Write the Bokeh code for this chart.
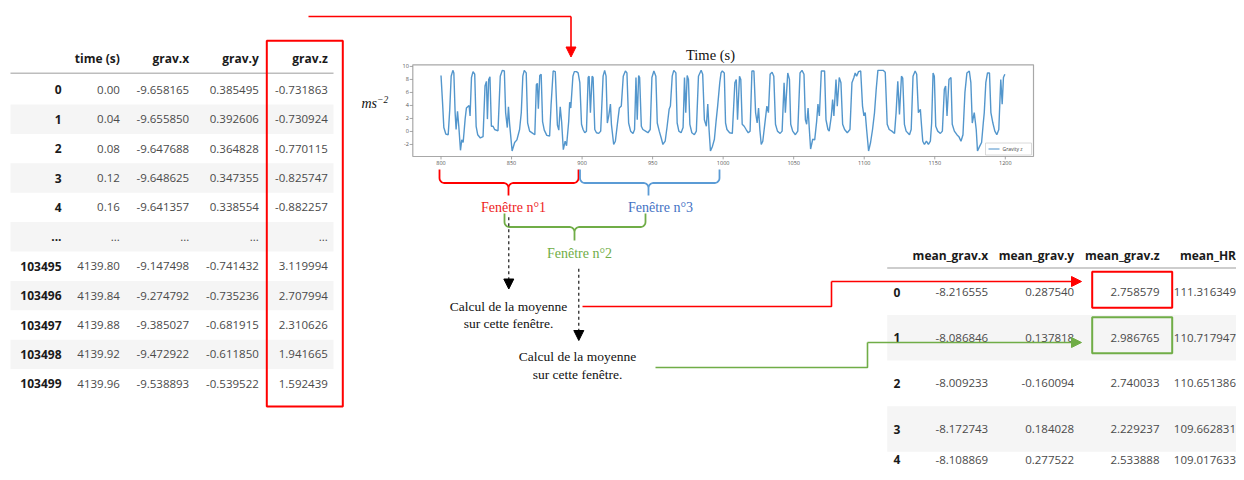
import numpy as np
from bokeh.plotting import figure
from bokeh.models import Range1d, Arrow, NormalHead
from bokeh.core.properties import value
from bokeh.embed import file_html
from bokeh.resources import INLINE

# ------------------------------------------------------------------ data
left_columns = ["time (s)", "grav.x", "grav.y", "grav.z"]
left_index = ["0", "1", "2", "3", "4", "...", "103495", "103496", "103497", "103498", "103499"]
left_time = [0.00, 0.04, 0.08, 0.12, 0.16, None, 4139.80, 4139.84, 4139.88, 4139.92, 4139.96]
left_grav_x = [-9.658165, -9.655850, -9.647688, -9.648625, -9.641357, None,
               -9.147498, -9.274792, -9.385027, -9.472922, -9.538893]
left_grav_y = [0.385495, 0.392606, 0.364828, 0.347355, 0.338554, None,
               -0.741432, -0.735236, -0.681915, -0.611850, -0.539522]
left_grav_z = [-0.731863, -0.730924, -0.770115, -0.825747, -0.882257, None,
               3.119994, 2.707994, 2.310626, 1.941665, 1.592439]

right_columns = ["mean_grav.x", "mean_grav.y", "mean_grav.z", "mean_HR"]
right_index = ["0", "1", "2", "3", "4"]
mean_grav_x = [-8.216555, -8.086846, -8.009233, -8.172743, -8.108869]
mean_grav_y = [0.287540, 0.137818, -0.160094, 0.184028, 0.277522]
mean_grav_z = [2.758579, 2.986765, 2.740033, 2.229237, 2.533888]
mean_hr = [111.316349, 110.717947, 110.651386, 109.662831, 109.017633]

time_s = [
    800.0, 801.1, 802.0, 803.4, 805.1, 806.2, 807.2, 808.4, 809.1, 810.0, 810.7, 811.7, 812.6,
    813.8, 814.7, 815.7, 817.1, 818.0, 819.9, 820.6, 821.6, 822.7, 823.9, 824.9, 826.0, 827.9,
    829.8, 831.2, 832.2, 832.9, 833.8, 834.7, 835.7, 836.9, 838.0, 840.4, 842.0, 843.5, 844.9,
    845.8, 847.0, 847.8, 848.6, 850.4, 852.2, 853.8, 855.7, 856.9, 858.0, 859.0, 860.4, 861.4,
    862.8, 865.1, 866.5, 867.6, 868.3, 869.0, 870.0, 871.0, 872.0, 873.2, 875.0, 877.0, 878.0,
    879.5, 881.0, 882.5, 883.5, 884.5, 885.5, 886.7, 888.0, 889.0, 890.5, 891.2, 892.0, 893.5,
    894.5, 896.0,
    897.2, 898.4, 899.6, 900.7, 901.9, 903.1, 904.3, 905.0, 905.9, 907.1, 907.8, 909.0, 910.2,
    911.8, 913.2, 914.9, 916.0, 917.0, 917.9, 918.9, 920.1, 920.8, 922.4, 923.6, 925.0, 926.4,
    927.8, 929.2, 930.7, 931.8, 933.0, 934.4, 936.1, 937.2, 938.2, 939.1, 940.1, 940.8, 942.0,
    943.1, 945.0, 946.7, 948.3, 949.5, 950.9, 952.3, 953.3, 954.7, 956.1, 957.3, 958.9, 960.3,
    961.7, 962.6, 963.9, 965.0, 966.5, 967.4, 968.6, 970.2, 971.6, 972.6, 973.5, 974.5, 975.4,
    976.4, 977.8, 979.6, 981.0, 982.5, 984.4, 985.5, 986.7, 988.1, 989.1, 990.0, 991.0, 992.4,
    993.8, 995.0, 996.1, 997.6, 998.5,
    999.4, 1000.8, 1001.7, 1002.7, 1004.6, 1006.5, 1008.3, 1009.3, 1010.2, 1011.6, 1012.5,
    1013.5, 1014.9, 1016.3, 1017.8, 1019.1, 1020.4, 1021.8, 1023.0, 1024.1, 1025.1, 1026.0,
    1027.0, 1028.1, 1029.5, 1031.0, 1032.1, 1033.3, 1034.7, 1035.9, 1037.1, 1038.5, 1040.4,
    1041.8, 1043.2, 1044.1, 1045.8, 1047.0, 1047.9, 1049.3, 1051.2, 1052.9, 1054.5, 1055.9,
    1057.3, 1058.3, 1059.2, 1060.2, 1061.1, 1062.0, 1063.5, 1064.9, 1066.3, 1067.2, 1068.2,
    1069.6, 1071.9, 1072.9, 1074.3, 1075.2, 1076.7, 1077.6, 1078.5, 1080.0, 1080.9, 1082.3,
    1083.5, 1084.7, 1086.1, 1088.0, 1089.9, 1091.3, 1092.7, 1093.6, 1094.6, 1096.0,
    1097.5, 1098.8, 1099.8, 1100.7, 1101.7, 1103.1, 1104.5, 1105.9, 1107.3, 1108.5, 1109.7,
    1111.6, 1113.4, 1114.9, 1116.3, 1117.7, 1119.6, 1121.5, 1122.6, 1123.8, 1125.0, 1126.4,
    1127.3, 1128.5, 1129.7, 1132.1, 1133.3, 1134.6, 1136.1, 1137.2, 1138.4, 1139.8, 1140.6,
    1141.5, 1142.7, 1144.1, 1145.5, 1146.9, 1147.8, 1148.8, 1149.7, 1150.7, 1152.1, 1154.0,
    1155.4, 1156.8, 1157.7, 1158.7, 1160.1, 1161.5, 1162.4, 1163.9, 1165.7, 1167.1, 1168.6,
    1170.0, 1171.4, 1172.8, 1174.5, 1175.6, 1176.6, 1178.0, 1179.4, 1180.3, 1181.8, 1183.2,
    1184.4, 1185.1, 1186.2, 1187.4, 1188.8, 1189.8, 1191.2, 1192.6, 1194.0, 1195.4, 1196.8,
    1197.8, 1198.7, 1199.7,
]
gravity_z = [
    8.6, 4.4, 0.6, -0.4, -0.5, 3.4, 8.5, 9.4, 9.0, 2.9, 0.3, 3.1, 0.8,
    -2.9, -1.3, -1.7, 1.9, 3.6, 4.0, 2.4, 8.3, 9.2, 8.8, 0.8, -0.5, -1.0,
    -0.8, 7.0, 7.7, 1.9, 8.0, 8.4, 0.8, 0.8, 0.3, 0.1, 8.5, 9.4, 9.3,
    2.9, 0.6, 3.8, 1.2, -3.0, -1.7, -1.3, 0.3, 2.9, 8.5, 9.4, 9.0, 1.3,
    0.05, -0.3, -0.5, 7.2, 7.4, 3.5, 8.6, 8.8, 1.5, 0.2, -0.6, -0.7, 4.0,
    9.3, 9.2, 1.0, 0.2, 3.8, 1.5, -2.8, -1.5, -2.2, 1.5, 4.5, 3.6, 8.5,
    9.2, 9.2,
    9.0, 7.5, 1.1, 0.3, -0.2, 0.05, 8.3, 8.5, 2.9, 8.5, 8.3, 0.3, -0.2,
    -0.3, 0.05, 8.5, 9.4, 8.5, 1.3, 2.4, 4.2, 1.1, -2.0, -1.5, 1.1, 3.6,
    3.9, 8.5, 9.3, 9.0, 1.3, 0.05, -0.3, 0.3, 8.3, 1.8, 8.6, 8.3, 0.8,
    0.3, 0.05, -0.2, 0.3, 8.3, 9.3, 8.5, 1.3, 0.05, -1.0, -2.0, -1.5, 0.8,
    3.4, 3.9, 8.5, 9.4, 9.0, 1.3, 0.05, -0.2, 0.6, 8.3, 2.9, 8.6, 8.0,
    1.1, -0.2, -0.5, 0.05, 8.5, 9.4, 8.8, 1.8, 0.8, 4.2, 0.3, -3.0, -2.3,
    -1.2, 1.6, 3.9, 7.5, 9.0,
    9.3, 9.0, 1.3, 0.3, -0.2, -0.3, 7.5, 8.0, 1.8, 8.5, 8.0,
    1.1, 0.8, 0.3, -0.2, 0.05, 9.3, 9.3, 2.9, 1.3, 3.6, 0.3,
    -2.0, -1.5, 1.1, 3.9, 2.9, 8.8, 9.1, 8.5, 1.1, 0.05, -0.3,
    0.05, 7.5, 2.9, 9.0, 8.0, 1.1, 0.05, -0.5, 0.05, 9.0, 9.4,
    8.8, 1.8, 1.1, 3.6, 0.3, -2.7, -1.2, -1.3, 1.6, 4.2, 2.4,
    9.3, 9.3, 1.8, 0.3, 0.05, 2.4, 4.9, 2.4, 8.0, 3.9, 8.3,
    7.5, 1.1, 0.3, -0.2, 0.3, 7.5, 8.3, 9.0, 8.5, 9.2,
    9.3, 3.9, 2.4, 2.9, 0.3, -3.0, -1.7, 0.3, 2.9, 6.5, 9.4,
    9.4, 9.4, 9.1, 1.1, 0.3, 0.05, -0.3, 2.9, 7.7, 2.6, 8.5,
    8.2, 1.1, 0.05, -0.5, 0.3, 8.5, 9.3, 8.8, 2.9, 3.4, 1.0,
    -1.5, -2.0, -1.5, -2.0, -1.5, 1.3, 9.0, 8.5, 0.8, 0.05, -0.3,
    0.05, 6.5, 7.0, 2.4, 8.0, 8.3, 1.1, 0.05, -0.5, -0.8, -1.5,
    -0.5, 6.0, 9.0, 9.3, 7.5, 1.3, 2.9, 0.3, -3.0, -2.3, -1.7,
    1.3, 2.9, 7.5, 9.0, 9.0, 2.9, 1.3, 0.05, -0.5, 0.3, 8.0,
    4.2, 8.3, 8.8,
]
x_ticks = [800, 850, 900, 950, 1000, 1050, 1100, 1150, 1200]
y_ticks = [-2, 0, 2, 4, 6, 8, 10]
x_limits = (780, 1220)
y_limits = (-3.85, 10.25)
chart_title = "Time (s)"
legend_label = "Gravity z"
window_labels = ["Fenêtre n°1", "Fenêtre n°2", "Fenêtre n°3"]
mean_caption = ["Calcul de la moyenne", "sur cette fenêtre."]

# ------------------------------------------------------------------ figure (screenshot pixel coordinates)
W, H = 1236, 472
p = figure(width=W, height=H, x_range=Range1d(0, W), y_range=Range1d(H, 0),
           output_backend="svg", toolbar_location=None,
           x_axis_location=None, y_axis_location=None, min_border=0)
p.grid.visible = False
p.outline_line_color = None
p.background_fill_color = "white"
p.border_fill_color = "white"

SANS = value("Open Sans")
SERIF = value("Liberation Serif")
RED = "#ff0000"
RED_TXT = "#ee1c24"
BLUE = "#5b9bd5"
BLUE_TXT = "#4472c4"
GREEN = "#70ad47"
VAL_COLOR = "#4a4a4a"
HEAD_COLOR = "#1a1a1a"
LINE_BLUE = "#4a90c9"


def put_text(g, xs, ys, texts, size, color, align="right", style="normal", font=SANS,
             baseline="middle", **kw):
    g.text(x=xs, y=ys, text=texts, text_font=font, text_font_size=size, text_color=color,
           text_align=align, text_baseline=baseline, text_font_style=style, **kw)


def fmt(vals, digits):
    return ["..." if v is None else f"{v:.{digits}f}" for v in vals]


# ------------------------------------------------------------------ left table
L_LEFT, L_RIGHT = 10, 333
L_HEAD_Y = 58.3
L_ROW0, L_ROW_H = 89.3, 29.4
L_COL_R = [61, 119.3, 188.7, 258.3, 327.3]
n_left = len(left_index)
l_rows = [L_ROW0 + i * L_ROW_H for i in range(n_left)]
l_odd = [l_rows[i] for i in range(n_left) if i % 2 == 1]
p.quad(left=L_LEFT, right=L_RIGHT, top=[y - L_ROW_H / 2 for y in l_odd],
       bottom=[y + L_ROW_H / 2 for y in l_odd], fill_color="#f5f5f5", line_color=None)
p.segment(x0=L_LEFT, y0=L_HEAD_Y + 14.5, x1=L_RIGHT, y1=L_HEAD_Y + 14.5,
          line_color="#bdbdbd", line_width=1.5)
put_text(p, L_COL_R[1:], [L_HEAD_Y] * 4, left_columns, "12px", HEAD_COLOR, style="bold")
put_text(p, [L_COL_R[0]] * n_left, l_rows, left_index, "12px", HEAD_COLOR, style="bold")
for col_x, col_vals, d in zip(L_COL_R[1:], [left_time, left_grav_x, left_grav_y, left_grav_z],
                              [2, 6, 6, 6]):
    put_text(p, [col_x] * n_left, l_rows, fmt(col_vals, d), "11.5px", VAL_COLOR)
# red box around grav.z column
p.quad(left=L_COL_R[4] - 61, right=L_COL_R[4] + 15, top=L_HEAD_Y - 18,
       bottom=l_rows[-1] + 22.7, fill_color=None, line_color=RED, line_width=2)

# ------------------------------------------------------------------ right table
R_LEFT, R_RIGHT = 886.7, W
R_HEAD_Y = 255
R_ROW0, R_ROW_H = 291.7, 45.6
R_COL_R = [987.7, 1073.7, 1159, 1235.5]
n_right = len(right_index)
r_rows = [min(R_ROW0 + i * R_ROW_H, 459) for i in range(n_right)]
r_odd = [R_ROW0 + i * R_ROW_H for i in range(n_right) if i % 2 == 1]
p.quad(left=R_LEFT, right=R_RIGHT, top=[y - R_ROW_H / 2 for y in r_odd],
       bottom=[y + R_ROW_H / 2 for y in r_odd], fill_color="#f5f5f5", line_color=None)
p.segment(x0=R_LEFT, y0=R_HEAD_Y + 12.5, x1=R_RIGHT, y1=R_HEAD_Y + 12.5,
          line_color="#bdbdbd", line_width=1.5)
put_text(p, R_COL_R, [R_HEAD_Y] * 4, right_columns, "12px", HEAD_COLOR, style="bold")
put_text(p, [893] * n_right, r_rows, right_index, "12px", HEAD_COLOR, style="bold", align="left")
for col_x, col_vals in zip(R_COL_R, [mean_grav_x, mean_grav_y, mean_grav_z, mean_hr]):
    put_text(p, [col_x] * n_right, r_rows, fmt(col_vals, 6), "11.5px", VAL_COLOR)
for i, c in [(0, RED), (1, GREEN)]:
    yc = R_ROW0 + i * R_ROW_H
    p.quad(left=R_COL_R[2] - 67.3, right=R_COL_R[2] + 12.7, top=yc - 20.5, bottom=yc + 15.5,
           fill_color=None, line_color=c, line_width=2)

# ------------------------------------------------------------------ inner time-series chart
FX0, FX1, FY0, FY1 = 412.3, 1033, 156, 64.3
sub = p.subplot(x_source=Range1d(*x_limits), y_source=Range1d(*y_limits),
                x_target=Range1d(FX0, FX1), y_target=Range1d(FY0, FY1))
sub.line(time_s, gravity_z, line_color=LINE_BLUE, line_width=1.4, line_alpha=0.95)
sub.quad(left=x_limits[0], right=x_limits[1], bottom=y_limits[0], top=y_limits[1],
         fill_color=None, line_color="#a8a8a8", line_width=1.2)
sub.segment(x0=x_ticks, y0=y_limits[0], x1=x_ticks, y1=y_limits[0] - 0.45,
            line_color="#909090", line_width=0.8)
sub.segment(x0=x_limits[0], y0=y_ticks, x1=x_limits[0] - 2.2, y1=y_ticks,
            line_color="#909090", line_width=0.8)
put_text(sub, x_ticks, [y_limits[0]] * len(x_ticks), [str(t) for t in x_ticks], "5.5px",
         "#555555", align="center", baseline="top", y_offset=4)
put_text(sub, [x_limits[0]] * len(y_ticks), y_ticks, [str(t) for t in y_ticks], "5.5px",
         "#555555", align="right", x_offset=-4)
# legend
p.quad(left=985, right=1031, top=142.5, bottom=154.5, fill_color="white",
       line_color="#d0d0d0", line_width=0.8)
p.segment(x0=988, y0=148.5, x1=999, y1=148.5, line_color=LINE_BLUE, line_width=1.2)
put_text(p, [1002], [148.7], [legend_label], "5px", "#444444", align="left")
# title and unit
put_text(p, [710], [54], [chart_title], "14.5px", "#111111", align="center", font=SERIF)
put_text(p, [361], [103], ["ms"], "14px", "#111111", align="left", font=SERIF, style="italic")
put_text(p, [376.5], [98.5], ["−2"], "9.5px", "#111111", align="left", font=SERIF, style="italic")

# ------------------------------------------------------------------ braces


def brace(x0, x1, xc, y_end, y_bar, y_tip, color, r=5.0):
    def arc(cx, cy, a0, a1):
        a = np.radians(np.linspace(a0, a1, 8))
        return list(cx + r * np.cos(a)), list(cy + r * np.sin(a))
    xs, ys = [x0], [y_end]
    for cx, cy, a0, a1 in [(x0 + r, y_bar - r, 180, 90), (xc - r, y_bar + r, -90, 0)]:
        ax, ay = arc(cx, cy, a0, a1)
        xs += ax
        ys += ay
    xs.append(xc)
    ys.append(y_tip)
    xs.append(xc)
    ys.append(y_bar + r)
    for cx, cy, a0, a1 in [(xc + r, y_bar + r, 180, 270), (x1 - r, y_bar - r, 90, 0)]:
        ax, ay = arc(cx, cy, a0, a1)
        xs += ax
        ys += ay
    xs.append(x1)
    ys.append(y_end)
    p.line(xs, ys, line_color=color, line_width=1.8)


brace(439, 578, 508, 169, 182.5, 195, RED)
brace(579.5, 719, 648, 169, 182.5, 195, BLUE)
brace(504, 645, 574, 213, 226.5, 240, GREEN)
put_text(p, [513], [206.5], [window_labels[0]], "14px", RED_TXT, align="center", font=SERIF)
put_text(p, [660], [206.5], [window_labels[2]], "14px", BLUE_TXT, align="center", font=SERIF)
put_text(p, [579], [252.5], [window_labels[1]], "14px", GREEN, align="center", font=SERIF)

# ------------------------------------------------------------------ arrows and captions


def head_arrow(x0, y0, x1, y1, color, dash="solid", lw=1.5, size=9):
    p.add_layout(Arrow(end=NormalHead(size=size, fill_color=color, line_color=color, line_width=1),
                       x_start=x0, y_start=y0, x_end=x1, y_end=y1,
                       line_color=color, line_width=lw, line_dash=dash))


head_arrow(508.3, 216.7, 508.3, 288.5, "black", dash="3 3", lw=1.1, size=10)
head_arrow(578.3, 268.3, 578.3, 340, "black", dash="3 3", lw=1.1, size=10)
put_text(p, [508, 508], [305.5, 323.3], mean_caption, "13.5px", "#111111", align="center", font=SERIF)
put_text(p, [577, 577], [356, 373.5], mean_caption, "13.5px", "#111111", align="center", font=SERIF)

# top red arrow: dataframe column -> plot
p.line([308, 570.5], [16, 16], line_color=RED, line_width=1.6)
head_arrow(570.5, 16, 570.5, 56.5, RED, lw=1.6, size=10)
# window 1 mean -> row 0
p.line([582, 831, 831], [306, 306, 281], line_color=RED, line_width=1.6)
head_arrow(831, 281, 1081, 281, RED, lw=1.6, size=10)
# window 2 mean -> row 1
p.line([655, 867, 867], [367, 367, 342], line_color=GREEN, line_width=1.6)
head_arrow(867, 342, 1081, 342, GREEN, lw=1.6, size=10)

open("out.html", "w").write(file_html(p, INLINE))
